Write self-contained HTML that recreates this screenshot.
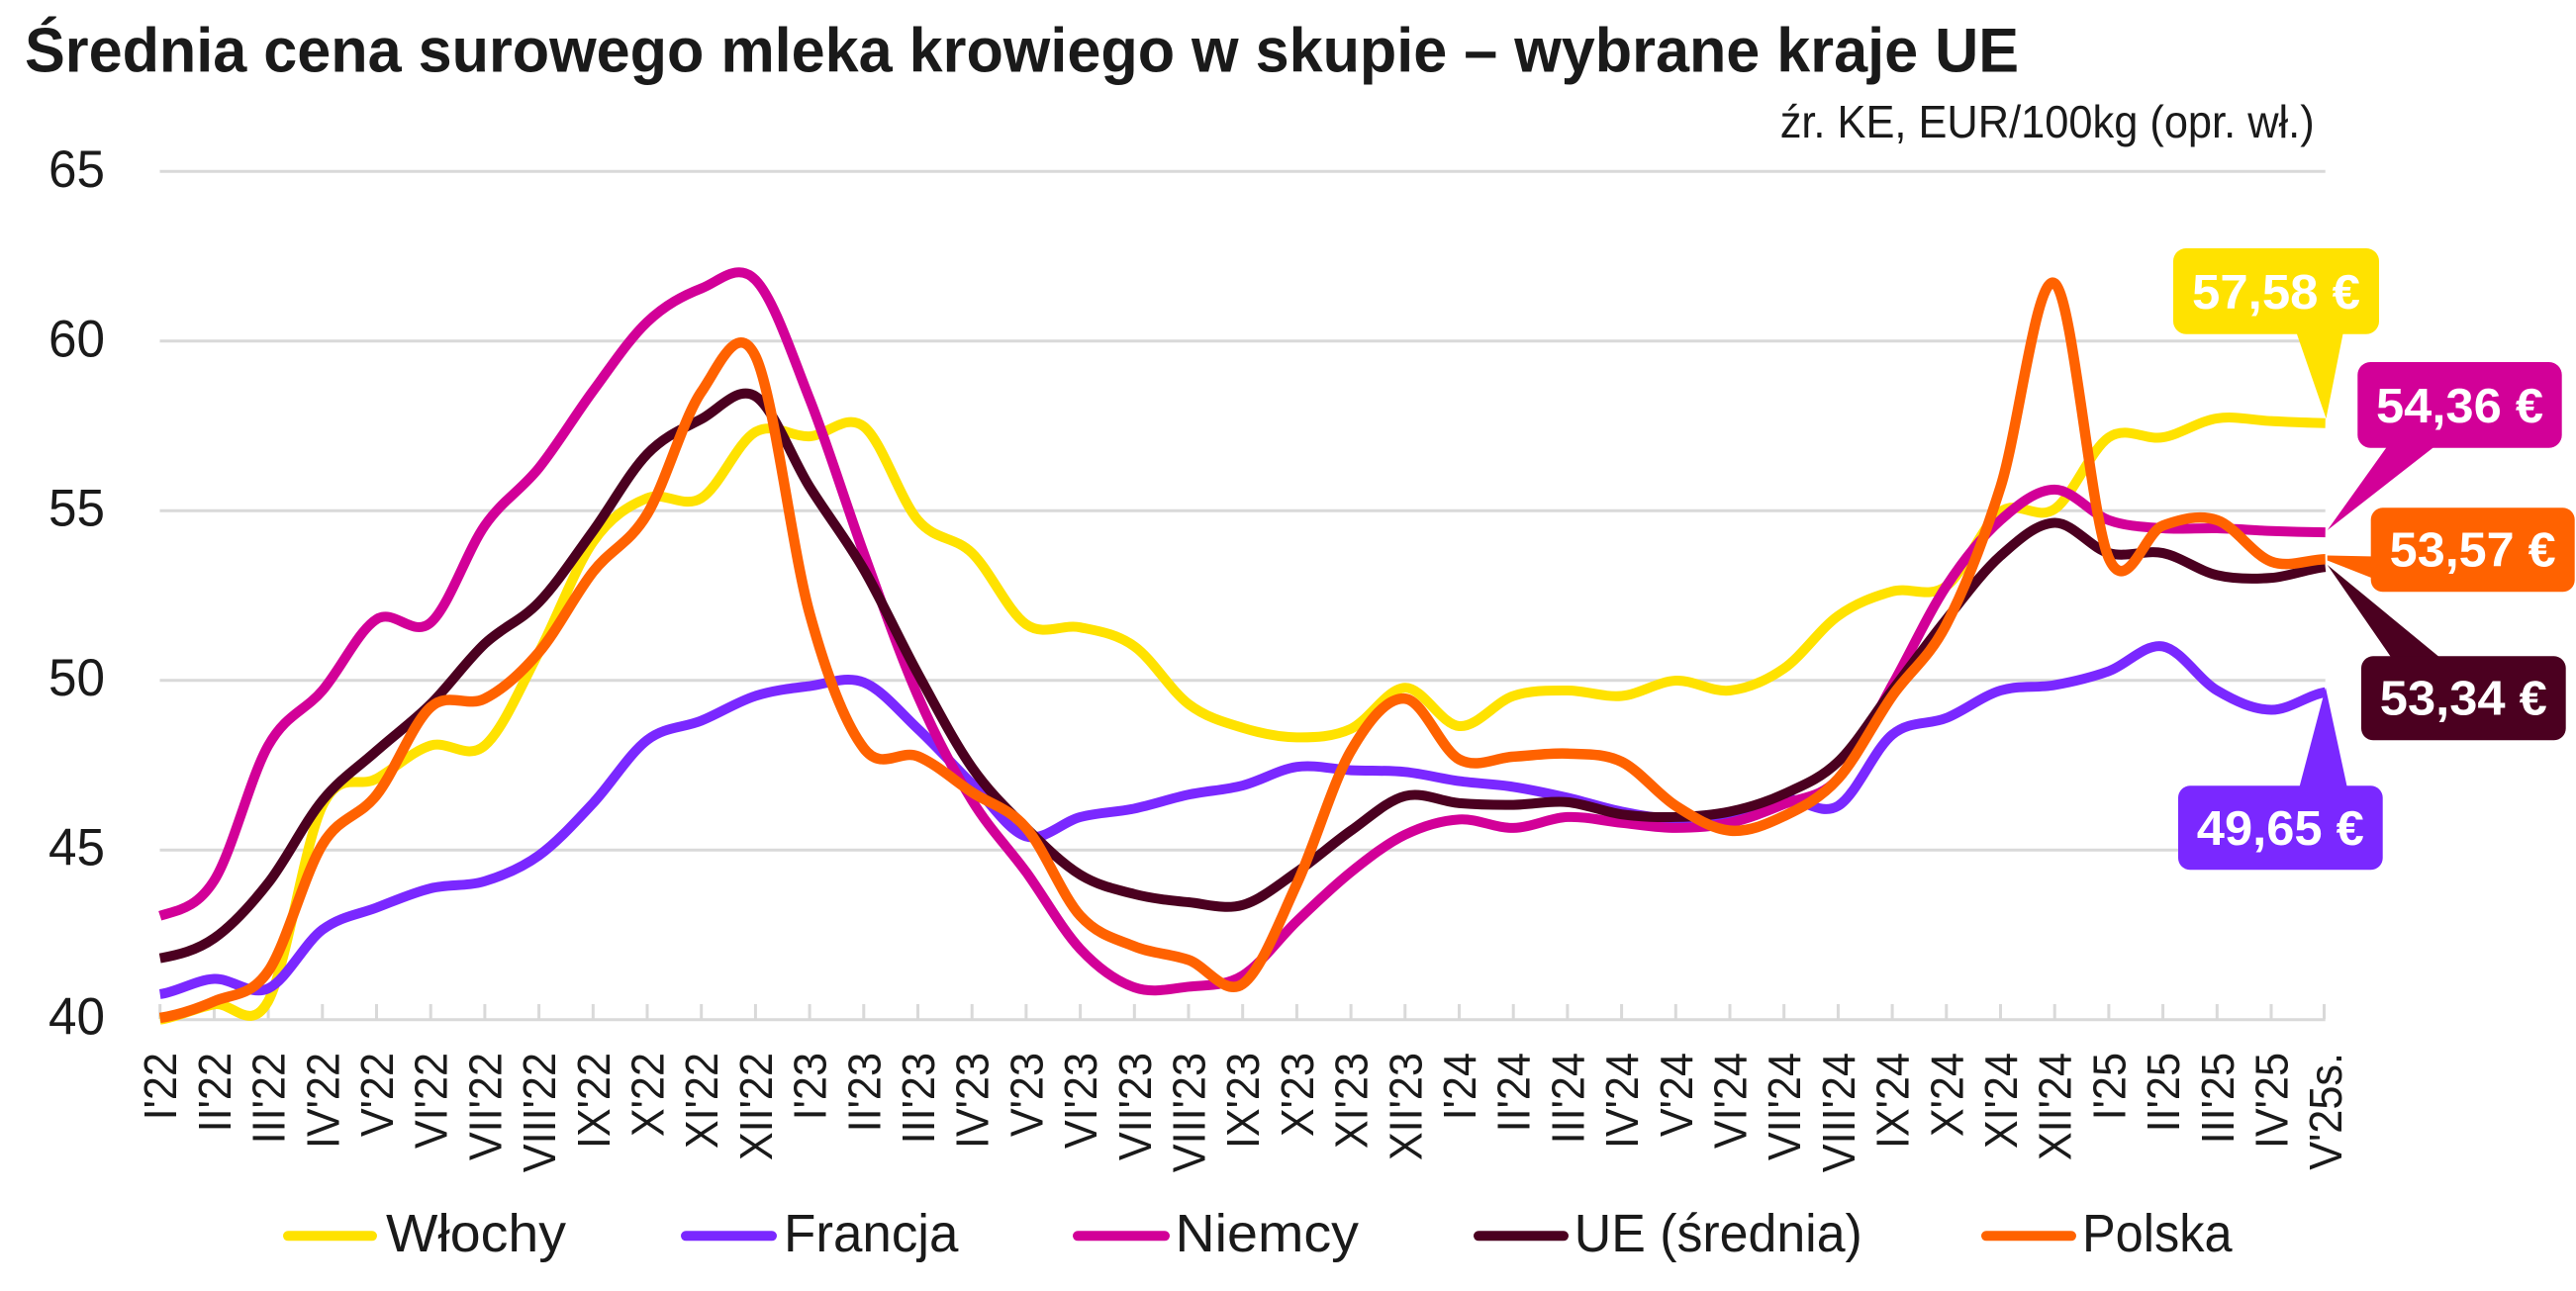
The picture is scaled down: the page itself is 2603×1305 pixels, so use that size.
<!DOCTYPE html>
<html lang="pl">
<head>
<meta charset="utf-8">
<title>Średnia cena surowego mleka krowiego w skupie – wybrane kraje UE</title>
<style>
  html, body { margin: 0; padding: 0; background: #ffffff; }
  body { width: 2603px; height: 1305px; overflow: hidden; }
  svg { display: block; }
  text { font-family: "Liberation Sans", "DejaVu Sans", sans-serif; }
</style>
</head>
<body>
<svg width="2603" height="1305" viewBox="0 0 2603 1305" xmlns="http://www.w3.org/2000/svg">
  <rect x="0" y="0" width="2603" height="1305" fill="#ffffff"/>

  <!-- Title -->
  <text x="25" y="72.5" font-size="63" font-weight="bold" fill="#1a1a1a" textLength="2015" lengthAdjust="spacingAndGlyphs">Średnia cena surowego mleka krowiego w skupie – wybrane kraje UE</text>
  <!-- Subtitle -->
  <text x="2338.7" y="139" font-size="46" fill="#1a1a1a" text-anchor="end" textLength="540" lengthAdjust="spacingAndGlyphs">źr. KE, EUR/100kg (opr. wł.)</text>

  <!-- Gridlines -->
  <g stroke="#d9d9d9" stroke-width="3">
    <line x1="161.5" y1="173.2" x2="2349.7" y2="173.2"/>
    <line x1="161.5" y1="344.7" x2="2349.7" y2="344.7"/>
    <line x1="161.5" y1="516.2" x2="2349.7" y2="516.2"/>
    <line x1="161.5" y1="687.7" x2="2349.7" y2="687.7"/>
    <line x1="161.5" y1="859.2" x2="2349.7" y2="859.2"/>
    <line x1="161.5" y1="1030.7" x2="2349.7" y2="1030.7"/>
  </g>
  <!-- Ticks -->
  <g stroke="#d9d9d9" stroke-width="3">
    <line x1="161.7" y1="1015" x2="161.7" y2="1030"/>
    <line x1="216.4" y1="1015" x2="216.4" y2="1030"/>
    <line x1="271.1" y1="1015" x2="271.1" y2="1030"/>
    <line x1="325.8" y1="1015" x2="325.8" y2="1030"/>
    <line x1="380.5" y1="1015" x2="380.5" y2="1030"/>
    <line x1="435.2" y1="1015" x2="435.2" y2="1030"/>
    <line x1="489.9" y1="1015" x2="489.9" y2="1030"/>
    <line x1="544.6" y1="1015" x2="544.6" y2="1030"/>
    <line x1="599.3" y1="1015" x2="599.3" y2="1030"/>
    <line x1="654.0" y1="1015" x2="654.0" y2="1030"/>
    <line x1="708.7" y1="1015" x2="708.7" y2="1030"/>
    <line x1="763.4" y1="1015" x2="763.4" y2="1030"/>
    <line x1="818.1" y1="1015" x2="818.1" y2="1030"/>
    <line x1="872.8" y1="1015" x2="872.8" y2="1030"/>
    <line x1="927.5" y1="1015" x2="927.5" y2="1030"/>
    <line x1="982.2" y1="1015" x2="982.2" y2="1030"/>
    <line x1="1036.9" y1="1015" x2="1036.9" y2="1030"/>
    <line x1="1091.6" y1="1015" x2="1091.6" y2="1030"/>
    <line x1="1146.3" y1="1015" x2="1146.3" y2="1030"/>
    <line x1="1201.0" y1="1015" x2="1201.0" y2="1030"/>
    <line x1="1255.7" y1="1015" x2="1255.7" y2="1030"/>
    <line x1="1310.4" y1="1015" x2="1310.4" y2="1030"/>
    <line x1="1365.1" y1="1015" x2="1365.1" y2="1030"/>
    <line x1="1419.8" y1="1015" x2="1419.8" y2="1030"/>
    <line x1="1474.5" y1="1015" x2="1474.5" y2="1030"/>
    <line x1="1529.2" y1="1015" x2="1529.2" y2="1030"/>
    <line x1="1583.9" y1="1015" x2="1583.9" y2="1030"/>
    <line x1="1638.6" y1="1015" x2="1638.6" y2="1030"/>
    <line x1="1693.3" y1="1015" x2="1693.3" y2="1030"/>
    <line x1="1748.0" y1="1015" x2="1748.0" y2="1030"/>
    <line x1="1802.7" y1="1015" x2="1802.7" y2="1030"/>
    <line x1="1857.4" y1="1015" x2="1857.4" y2="1030"/>
    <line x1="1912.1" y1="1015" x2="1912.1" y2="1030"/>
    <line x1="1966.8" y1="1015" x2="1966.8" y2="1030"/>
    <line x1="2021.5" y1="1015" x2="2021.5" y2="1030"/>
    <line x1="2076.2" y1="1015" x2="2076.2" y2="1030"/>
    <line x1="2130.9" y1="1015" x2="2130.9" y2="1030"/>
    <line x1="2185.6" y1="1015" x2="2185.6" y2="1030"/>
    <line x1="2240.3" y1="1015" x2="2240.3" y2="1030"/>
    <line x1="2295.0" y1="1015" x2="2295.0" y2="1030"/>
    <line x1="2348.5" y1="1015" x2="2348.5" y2="1030"/>
  </g>

  <!-- Y axis labels -->
  <g font-size="53" fill="#1a1a1a">
    <text x="49" y="189" textLength="57" lengthAdjust="spacingAndGlyphs">65</text>
    <text x="49" y="360.5" textLength="57" lengthAdjust="spacingAndGlyphs">60</text>
    <text x="49" y="531.5" textLength="57" lengthAdjust="spacingAndGlyphs">55</text>
    <text x="49" y="703" textLength="57" lengthAdjust="spacingAndGlyphs">50</text>
    <text x="49" y="874.5" textLength="57" lengthAdjust="spacingAndGlyphs">45</text>
    <text x="49" y="1045.5" textLength="57" lengthAdjust="spacingAndGlyphs">40</text>
  </g>

  <!-- X axis labels (rotated) -->
  <g font-size="46" fill="#1a1a1a" text-anchor="end">
    <text transform="translate(178.2,1064) rotate(-90) scale(0.94,1)">I'22</text>
    <text transform="translate(232.9,1064) rotate(-90) scale(0.94,1)">II'22</text>
    <text transform="translate(287.6,1064) rotate(-90) scale(0.94,1)">III'22</text>
    <text transform="translate(342.3,1064) rotate(-90) scale(0.94,1)">IV'22</text>
    <text transform="translate(397.0,1064) rotate(-90) scale(0.94,1)">V'22</text>
    <text transform="translate(451.7,1064) rotate(-90) scale(0.94,1)">VI'22</text>
    <text transform="translate(506.4,1064) rotate(-90) scale(0.94,1)">VII'22</text>
    <text transform="translate(561.1,1064) rotate(-90) scale(0.94,1)">VIII'22</text>
    <text transform="translate(615.8,1064) rotate(-90) scale(0.94,1)">IX'22</text>
    <text transform="translate(670.5,1064) rotate(-90) scale(0.94,1)">X'22</text>
    <text transform="translate(725.2,1064) rotate(-90) scale(0.94,1)">XI'22</text>
    <text transform="translate(779.9,1064) rotate(-90) scale(0.94,1)">XII'22</text>
    <text transform="translate(834.6,1064) rotate(-90) scale(0.94,1)">I'23</text>
    <text transform="translate(889.3,1064) rotate(-90) scale(0.94,1)">II'23</text>
    <text transform="translate(944.0,1064) rotate(-90) scale(0.94,1)">III'23</text>
    <text transform="translate(998.7,1064) rotate(-90) scale(0.94,1)">IV'23</text>
    <text transform="translate(1053.4,1064) rotate(-90) scale(0.94,1)">V'23</text>
    <text transform="translate(1108.1,1064) rotate(-90) scale(0.94,1)">VI'23</text>
    <text transform="translate(1162.8,1064) rotate(-90) scale(0.94,1)">VII'23</text>
    <text transform="translate(1217.5,1064) rotate(-90) scale(0.94,1)">VIII'23</text>
    <text transform="translate(1272.2,1064) rotate(-90) scale(0.94,1)">IX'23</text>
    <text transform="translate(1326.9,1064) rotate(-90) scale(0.94,1)">X'23</text>
    <text transform="translate(1381.6,1064) rotate(-90) scale(0.94,1)">XI'23</text>
    <text transform="translate(1436.3,1064) rotate(-90) scale(0.94,1)">XII'23</text>
    <text transform="translate(1491.0,1064) rotate(-90) scale(0.94,1)">I'24</text>
    <text transform="translate(1545.7,1064) rotate(-90) scale(0.94,1)">II'24</text>
    <text transform="translate(1600.4,1064) rotate(-90) scale(0.94,1)">III'24</text>
    <text transform="translate(1655.1,1064) rotate(-90) scale(0.94,1)">IV'24</text>
    <text transform="translate(1709.8,1064) rotate(-90) scale(0.94,1)">V'24</text>
    <text transform="translate(1764.5,1064) rotate(-90) scale(0.94,1)">VI'24</text>
    <text transform="translate(1819.2,1064) rotate(-90) scale(0.94,1)">VII'24</text>
    <text transform="translate(1873.9,1064) rotate(-90) scale(0.94,1)">VIII'24</text>
    <text transform="translate(1928.6,1064) rotate(-90) scale(0.94,1)">IX'24</text>
    <text transform="translate(1983.3,1064) rotate(-90) scale(0.94,1)">X'24</text>
    <text transform="translate(2038.0,1064) rotate(-90) scale(0.94,1)">XI'24</text>
    <text transform="translate(2092.7,1064) rotate(-90) scale(0.94,1)">XII'24</text>
    <text transform="translate(2147.4,1064) rotate(-90) scale(0.94,1)">I'25</text>
    <text transform="translate(2202.1,1064) rotate(-90) scale(0.94,1)">II'25</text>
    <text transform="translate(2256.8,1064) rotate(-90) scale(0.94,1)">III'25</text>
    <text transform="translate(2311.5,1064) rotate(-90) scale(0.94,1)">IV'25</text>
    <text transform="translate(2366.2,1064) rotate(-90) scale(0.94,1)">V'25s.</text>
  </g>

  <!-- Series (data coordinates: x = month index, y = value) -->
  <g transform="matrix(54.7 0 0 -34.3 161.7 2402.7)" fill="none" stroke-linejoin="round" stroke-linecap="butt">
    <!-- Włochy -->
    <path vector-effect="non-scaling-stroke" stroke="#FFE200" stroke-width="10" d="M0,40 C0.333,40.075 0.667,40.358 1,40.45 S1.667,39.575 2,40.55 S2.667,45.208 3,46.3 S3.667,46.803 4,47.1 S4.667,47.917 5,48.08 S5.667,47.622 6,48.08 S6.667,49.83 7,50.83 S7.667,53.323 8,54.08 S8.667,55.155 9,55.37 S9.667,55.045 10,55.37 S10.667,57.017 11,57.32 S11.667,57.163 12,57.19 S12.667,57.892 13,57.48 S13.667,55.342 14,54.72 S14.667,54.262 15,53.75 S15.667,52.015 16,51.65 S16.667,51.668 17,51.56 S17.667,51.377 18,51.0 S18.667,49.7 19,49.3 S19.667,48.763 20,48.6 S20.667,48.325 21,48.32 S21.667,48.327 22,48.57 S22.667,49.767 23,49.78 S23.667,48.69 24,48.65 S24.667,49.365 25,49.54 S25.667,49.7 26,49.7 S26.667,49.492 27,49.54 S27.667,49.963 28,49.99 S28.667,49.64 29,49.7 S29.667,49.983 30,50.35 S30.667,51.522 31,51.9 S31.667,52.473 32,52.62 S32.667,52.388 33,52.78 S33.667,54.592 34,54.97 S34.667,54.685 35,55.05 S35.667,56.808 36,57.16 S36.667,57.067 37,57.16 S37.667,57.64 38,57.72 S38.667,57.663 39,57.64 S39.667,57.59 40,57.58"/>
    <!-- Francja -->
    <path vector-effect="non-scaling-stroke" stroke="#7A28FF" stroke-width="10" d="M0,40.75 C0.333,40.825 0.667,41.172 1,41.2 S1.667,40.678 2,40.92 S2.667,42.253 3,42.65 S3.667,43.097 4,43.3 S4.667,43.74 5,43.87 S5.667,43.918 6,44.08 S6.667,44.457 7,44.84 S7.667,45.813 8,46.38 S8.667,47.835 9,48.24 S9.667,48.593 10,48.81 S10.667,49.37 11,49.54 S11.667,49.763 12,49.83 S12.667,50.15 13,49.94 S13.667,49.068 14,48.57 S14.667,47.478 15,46.95 S15.667,45.563 16,45.4 S16.667,45.833 17,45.97 S17.667,46.11 18,46.22 S18.667,46.517 19,46.63 S19.667,46.763 20,46.9 S20.667,47.375 21,47.45 S21.667,47.375 22,47.35 S22.667,47.353 23,47.3 S23.667,47.103 24,47.03 S24.667,46.942 25,46.86 S25.667,46.662 26,46.54 S26.667,46.237 27,46.13 S27.667,45.927 28,45.9 S28.667,45.87 29,45.97 S29.667,46.445 30,46.5 S30.667,45.983 31,46.3 S31.667,47.968 32,48.4 S32.667,48.673 33,48.89 S33.667,49.538 34,49.7 S34.667,49.765 35,49.86 S35.667,50.08 36,50.27 S36.667,51.095 37,51.0 S37.667,50.012 38,49.7 S38.667,49.138 39,49.13 S39.667,49.563 40,49.65"/>
    <!-- Niemcy -->
    <path vector-effect="non-scaling-stroke" stroke="#D20098" stroke-width="10" d="M0,43.06 C0.333,43.233 0.667,43.263 1,44.1 S1.667,47.147 2,48.08 S2.667,49.08 3,49.7 S3.667,51.467 4,51.8 S4.667,51.24 5,51.7 S5.667,53.8 6,54.56 S6.667,55.598 7,56.26 S7.667,57.813 8,58.53 S8.667,60.057 9,60.56 S9.667,61.343 10,61.55 S10.667,62.343 11,61.8 S11.667,59.632 12,58.29 S12.667,55.208 13,53.75 S13.667,50.755 14,49.54 S14.667,47.325 15,46.46 S15.667,45.08 16,44.35 S16.667,42.647 17,42.08 S17.667,41.135 18,40.95 S18.667,40.912 19,40.97 S19.667,40.978 20,41.3 S20.667,42.392 21,42.9 S21.667,43.925 22,44.35 S22.667,45.192 23,45.45 S23.667,45.867 24,45.9 S24.667,45.638 25,45.65 S25.667,45.945 26,45.97 S26.667,45.853 27,45.8 S27.667,45.65 28,45.65 S28.667,45.683 29,45.8 S29.667,46.133 30,46.35 S30.667,46.515 31,47.1 S31.667,48.913 32,49.86 S32.667,51.97 33,52.78 S33.667,54.247 34,54.72 S34.667,55.62 35,55.62 S35.667,54.91 36,54.72 S36.667,54.52 37,54.48 S37.667,54.493 38,54.48 S38.667,54.42 39,54.4 S39.667,54.367 40,54.36"/>
    <!-- UE (średnia) -->
    <path vector-effect="non-scaling-stroke" stroke="#4B0020" stroke-width="10" d="M0,41.81 C0.333,41.908 0.667,42.03 1,42.4 S1.667,43.353 2,44.03 S2.667,45.812 3,46.46 S3.667,47.447 4,47.92 S4.667,48.773 5,49.3 S5.667,50.58 6,51.08 S6.667,51.747 7,52.3 S7.667,53.672 8,54.4 S8.667,56.12 9,56.67 S9.667,57.417 10,57.7 S10.667,58.703 11,58.37 S11.667,56.55 12,55.7 S12.667,54.187 13,53.27 S13.667,51.173 14,50.2 S14.667,48.188 15,47.43 S15.667,46.177 16,45.65 S16.667,44.595 17,44.27 S17.667,43.835 18,43.7 S18.667,43.513 19,43.46 S19.667,43.232 20,43.38 S20.667,43.985 21,44.35 S21.667,45.197 22,45.57 S22.667,46.455 23,46.59 S23.667,46.423 24,46.38 S24.667,46.325 25,46.33 S25.667,46.457 26,46.41 S26.667,46.123 27,46.05 S27.667,45.957 28,45.97 S28.667,46.017 29,46.13 S29.667,46.405 30,46.65 S30.667,47.092 31,47.6 S31.667,49.0 32,49.7 S32.667,51.138 33,51.8 S33.667,53.197 34,53.67 S34.667,54.627 35,54.64 S35.667,53.898 36,53.75 S36.667,53.858 37,53.75 S37.667,53.222 38,53.1 S38.667,52.98 39,53.02 S39.667,53.287 40,53.34"/>
    <!-- Polska -->
    <path vector-effect="non-scaling-stroke" stroke="#FF6200" stroke-width="10.5" d="M0,40.05 C0.333,40.132 0.667,40.31 1,40.54 S1.667,40.66 2,41.43 S2.667,44.295 3,45.16 S3.667,45.945 4,46.62 S4.667,48.737 5,49.21 S5.667,49.19 6,49.46 S6.667,50.207 7,50.83 S7.667,52.522 8,53.2 S8.667,54.017 9,54.9 S9.667,57.725 10,58.5 S10.667,60.638 11,59.55 S11.667,53.895 12,51.97 S12.667,48.702 13,48.0 S13.667,47.977 14,47.76 S14.667,47.052 15,46.7 S15.667,46.257 16,45.65 S16.667,43.642 17,43.06 S17.667,42.377 18,42.16 S18.667,41.945 19,41.76 S19.667,40.677 20,41.05 S20.667,42.855 21,44.0 S21.667,47.01 22,47.92 S22.667,49.502 23,49.46 S23.667,47.955 24,47.67 S24.667,47.722 25,47.75 S25.667,47.865 26,47.84 S26.667,47.857 27,47.6 S27.667,46.638 28,46.3 S28.667,45.62 29,45.57 S29.667,45.745 30,46.0 S30.667,46.51 31,47.1 S31.667,48.782 32,49.54 S32.667,50.623 33,51.65 S33.667,54.025 34,55.7 S34.667,62.05 35,61.7 S35.667,54.79 36,53.6 S36.667,54.373 37,54.56 S37.667,54.897 38,54.72 S38.667,53.692 39,53.5 S39.667,53.558 40,53.57"/>
  </g>

  <!-- Callouts -->
  <!-- Włochy -->
  <polygon points="2318.3,330 2369,330 2350.5,423" fill="#FFE200"/>
  <rect x="2196" y="251" width="208" height="86.7" rx="13" ry="13" fill="#FFE200"/>
  <text x="2300" y="312" font-size="49" font-weight="bold" fill="#ffffff" text-anchor="middle" textLength="170" lengthAdjust="spacingAndGlyphs">57,58 €</text>

  <!-- Niemcy -->
  <polygon points="2416.7,445 2468.3,445 2351.7,536" fill="#D20098"/>
  <rect x="2382.3" y="366" width="206.4" height="86.7" rx="13" ry="13" fill="#D20098"/>
  <text x="2485.5" y="427" font-size="49" font-weight="bold" fill="#ffffff" text-anchor="middle" textLength="169" lengthAdjust="spacingAndGlyphs">54,36 €</text>

  <!-- Polska -->
  <polygon points="2351.7,561.5 2400,562.5 2400,585.5 2351.7,566.5" fill="#FF6200"/>
  <rect x="2395.7" y="513.3" width="206" height="85" rx="12" ry="12" fill="#FF6200"/>
  <text x="2498.7" y="572.7" font-size="49" font-weight="bold" fill="#ffffff" text-anchor="middle" textLength="168" lengthAdjust="spacingAndGlyphs">53,57 €</text>

  <!-- UE -->
  <polygon points="2351.7,571 2420,670 2472,670" fill="#4B0020"/>
  <rect x="2386" y="663.3" width="206.7" height="85" rx="12" ry="12" fill="#4B0020"/>
  <text x="2489.3" y="722.7" font-size="49" font-weight="bold" fill="#ffffff" text-anchor="middle" textLength="169" lengthAdjust="spacingAndGlyphs">53,34 €</text>

  <!-- Francja -->
  <polygon points="2350,695 2322.3,800 2372.7,800" fill="#7A28FF"/>
  <rect x="2201" y="794.3" width="206.7" height="85" rx="12" ry="12" fill="#7A28FF"/>
  <text x="2304.3" y="854" font-size="49" font-weight="bold" fill="#ffffff" text-anchor="middle" textLength="169" lengthAdjust="spacingAndGlyphs">49,65 €</text>

  <!-- Legend -->
  <g stroke-width="10" stroke-linecap="round">
    <line x1="291" y1="1249.3" x2="376" y2="1249.3" stroke="#FFE200"/>
    <line x1="693" y1="1249.3" x2="780" y2="1249.3" stroke="#7A28FF"/>
    <line x1="1089" y1="1249.3" x2="1177" y2="1249.3" stroke="#D20098"/>
    <line x1="1494" y1="1249.3" x2="1580" y2="1249.3" stroke="#4B0020"/>
    <line x1="2007" y1="1249.3" x2="2093" y2="1249.3" stroke="#FF6200"/>
  </g>
  <g font-size="53.5" fill="#1a1a1a">
    <text x="390" y="1265" textLength="182" lengthAdjust="spacingAndGlyphs">Włochy</text>
    <text x="792" y="1265" textLength="176.5" lengthAdjust="spacingAndGlyphs">Francja</text>
    <text x="1187.5" y="1265" textLength="185.5" lengthAdjust="spacingAndGlyphs">Niemcy</text>
    <text x="1590.8" y="1265" textLength="291" lengthAdjust="spacingAndGlyphs">UE (średnia)</text>
    <text x="2104" y="1265" textLength="151.6" lengthAdjust="spacingAndGlyphs">Polska</text>
  </g>
</svg>
</body>
</html>
